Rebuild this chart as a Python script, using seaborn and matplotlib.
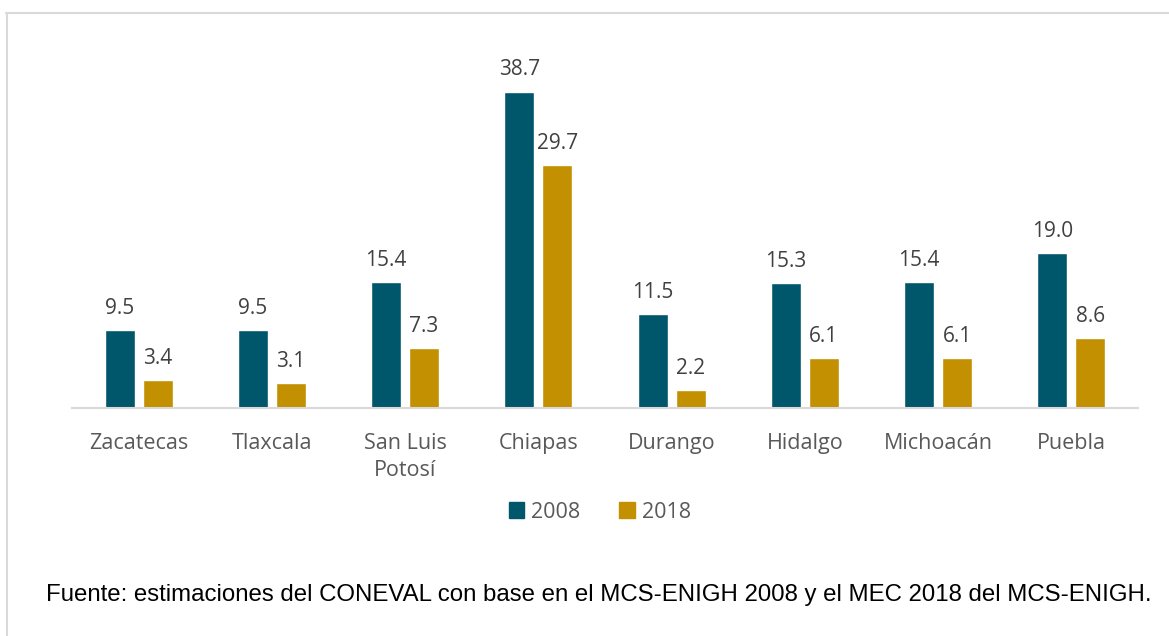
import pandas as pd
import matplotlib.pyplot as plt
import seaborn as sns
from matplotlib.lines import Line2D

# data
estados = ["Zacatecas", "Tlaxcala", "San Luis\nPotosí", "Chiapas",
           "Durango", "Hidalgo", "Michoacán", "Puebla"]
valores_2008 = [9.5, 9.5, 15.4, 38.7, 11.5, 15.3, 15.4, 19.0]
valores_2018 = [3.4, 3.1, 7.3, 29.7, 2.2, 6.1, 6.1, 8.6]
anios = ["2008", "2018"]
fuente = ("Fuente: estimaciones del CONEVAL con base en el MCS-ENIGH 2008 "
          "y el MEC 2018 del MCS-ENIGH.")

df = pd.DataFrame({
    "estado": estados * 2,
    "anio": [anios[0]] * len(estados) + [anios[1]] * len(estados),
    "valor": valores_2008 + valores_2018,
})

sns.set_style("white")
plt.rcParams["font.family"] = ["Open Sans", "DejaVu Sans"]

W, H = 1169, 636
fig = plt.figure(figsize=(W / 100, H / 100), dpi=100)
# axes placed in pixel terms: x 72..1138, baseline at y=408, top at y=40
ax = fig.add_axes([72 / W, 1 - 408 / H, (1138 - 72) / W, (408 - 40) / H])

colores = {"2008": "#00566B", "2018": "#C29000"}
sns.barplot(data=df, x="estado", y="valor", hue="anio", palette=colores,
            width=0.57, gap=0.21, ax=ax, legend=False, saturation=1)

for cont in ax.containers:
    ax.bar_label(cont, fmt="%.1f", padding=8, fontsize=15, color="#404040")

ax.set_ylim(0, 45)
ax.set_xlim(-0.5, len(estados) - 0.5)
ax.set_xlabel("")
ax.set_ylabel("")
ax.set_yticks([])
for s in ["top", "right", "left"]:
    ax.spines[s].set_visible(False)
ax.spines["bottom"].set_color("#D9D9D9")
ax.spines["bottom"].set_linewidth(1.5)
ax.tick_params(axis="x", length=0, pad=18, labelsize=15.5, labelcolor="#595959")
for t in ax.get_xticklabels():
    t.set_linespacing(1.35)

# legend
handles = [plt.Rectangle((0, 0), 1, 1, color=colores[a]) for a in anios]
fig.legend(handles, anios, loc="center", bbox_to_anchor=(600 / W, 1 - 512 / H),
           ncol=2, frameon=False, fontsize=15.5, labelcolor="#595959",
           handlelength=0.7, handleheight=0.7, handletextpad=0.35,
           columnspacing=1.8)

fig.text(599 / W, 1 - 595 / H, fuente, ha="center", va="center",
         fontsize=17.3, family=["Liberation Sans", "DejaVu Sans"], color="black")

# light frame: top and left edges
fig.add_artist(Line2D([6 / W, 1.0], [1 - 12.5 / H] * 2, color="#D9D9D9", lw=1.5))
fig.add_artist(Line2D([6.5 / W] * 2, [0, 1 - 12.5 / H], color="#D9D9D9", lw=1.5))

fig.savefig("out.png", dpi=100)
